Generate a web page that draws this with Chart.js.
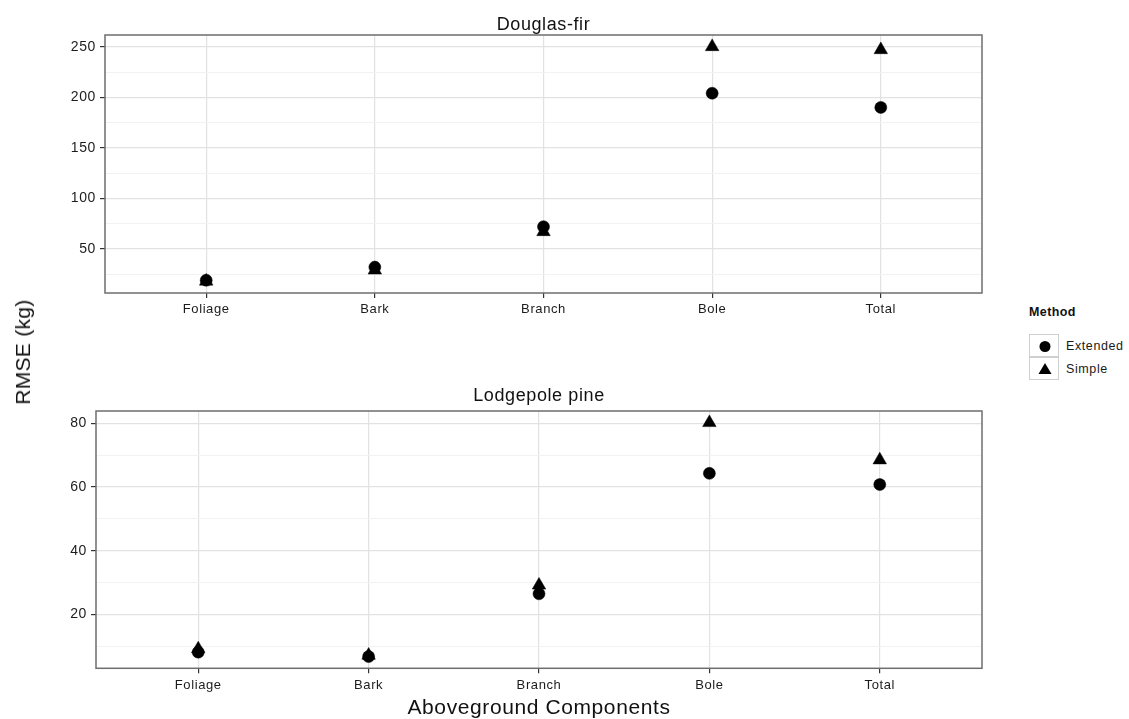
<!DOCTYPE html>
<html>
<head>
<meta charset="utf-8">
<title>RMSE by aboveground component</title>
<script src="https://cdn.jsdelivr.net/npm/chart.js@4/dist/chart.umd.min.js"></script>
<style>
  html, body { margin: 0; padding: 0; background: #fff; }
  #wrap { position: relative; width: 1129px; height: 719px; overflow: hidden;
          font-family: "Liberation Sans", Arial, sans-serif; color: #111; }
  #fir { position: absolute; left: 0; top: 0; }
  #pine { position: absolute; left: 0; top: 370px; }
  #ytitle { position: absolute; left: 22.5px; top: 352px; font-size: 21px; white-space: nowrap;
            transform: translate(-50%, -50%) rotate(-90deg); letter-spacing: 0.3px; }
  #legend-title { position: absolute; left: 1029px; top: 304px; font-size: 12.5px; font-weight: bold;
                  line-height: 16px; letter-spacing: 0.4px; }
  .key { position: absolute; left: 1029px; width: 30px; height: 23px; border: 1px solid #cfcfcf;
         box-sizing: border-box; background: #fff; }
  .key svg { position: absolute; left: 0; top: 0; }
  .key-label { position: absolute; left: 1066px; font-size: 12.5px; line-height: 16px; letter-spacing: 0.6px; color: #1a1a1a; }
</style>
</head>
<body>
<div id="wrap">
  <canvas id="fir" width="1000" height="320"></canvas>
  <canvas id="pine" width="1000" height="349"></canvas>
  <div id="ytitle">RMSE (kg)</div>
  <div id="legend-title">Method</div>
  <div class="key" style="top:334px"><svg width="30" height="23"><circle cx="15" cy="11.5" r="5.5" fill="#000"/></svg></div>
  <div class="key-label" style="top:337.5px">Extended</div>
  <div class="key" style="top:357px"><svg width="30" height="23"><polygon points="15,5 21.5,16 8.5,16" fill="#000"/></svg></div>
  <div class="key-label" style="top:360.5px">Simple</div>
</div>
<script>
// Components on the x axis
const categories = ['Foliage', 'Bark', 'Branch', 'Bole', 'Total'];

// Douglas-fir RMSE (kg)
const douglasExtended = [19, 32, 72, 204, 190];
const douglasSimple = [18, 29, 67, 250, 247];

// Lodgepole pine RMSE (kg)
const lodgepoleExtended = [8.2, 6.8, 26.5, 64.3, 60.8];
const lodgepoleSimple = [9.2, 7.2, 29.2, 80.2, 68.5];

// Labelled and unlabelled (minor) y gridlines per panel
const douglasMajorTicks = [50, 100, 150, 200, 250];
const douglasMinorTicks = [25, 75, 125, 175, 225];
const lodgepoleMajorTicks = [20, 40, 60, 80];
const lodgepoleMinorTicks = [10, 30, 50, 70];

const FONT = '"Liberation Sans", Arial, sans-serif';
const LABEL_COLOR = '#1c1c1c';

// y range padded by 5% of the data span on each side
function paddedRange(...series) {
  const all = series.flat();
  const lo = Math.min(...all), hi = Math.max(...all);
  const pad = (hi - lo) * 0.05;
  return [lo - pad, hi + pad];
}

// Grey frame around the plotting panel
const panelFrame = {
  id: 'panelFrame',
  beforeDraw(chart) { chart.ctx.letterSpacing = '0.6px'; },
  beforeDatasetsDraw(chart) {
    const { ctx, chartArea: a } = chart;
    ctx.save();
    ctx.strokeStyle = '#6e6e6e';
    ctx.lineWidth = 1.5;
    ctx.strokeRect(a.left, a.top, a.right - a.left, a.bottom - a.top);
    ctx.restore();
  }
};

function makePanel(canvasId, cfg) {
  const [ymin, ymax] = paddedRange(cfg.extended, cfg.simple);
  const major = cfg.majorTicks;
  const allTicks = [...cfg.majorTicks, ...cfg.minorTicks].sort((a, b) => a - b);
  const isMajor = v => major.includes(v);

  const toPoints = arr => arr.map((v, i) => ({ x: i, y: v }));

  const xScale = {
    type: 'linear',
    min: -0.6,
    max: categories.length - 1 + 0.6,
    afterBuildTicks: s => { s.ticks = categories.map((_, i) => ({ value: i })); },
    afterFit: s => { s.height = cfg.xAxisHeight; },
    ticks: {
      autoSkip: false, maxRotation: 0, padding: 4,
      color: LABEL_COLOR,
      font: { family: FONT, size: 13 },
      callback: v => categories[v]
    },
    grid: { color: '#e2e2e2', lineWidth: 1.2, tickColor: '#333', tickLength: 5, tickWidth: 1.2 },
    border: { display: false }
  };
  if (cfg.xTitle) {
    xScale.title = {
      display: true, text: cfg.xTitle, color: '#111',
      font: { family: FONT, size: 21, lineHeight: 1 },
      padding: { top: 0, bottom: 0 }
    };
  }

  return new Chart(document.getElementById(canvasId), {
    type: 'scatter',
    data: {
      datasets: [
        {
          label: 'Extended', data: toPoints(cfg.extended),
          pointStyle: 'circle', pointRadius: 6, pointBorderWidth: 0.5,
          backgroundColor: '#000', borderColor: '#000'
        },
        {
          label: 'Simple', data: toPoints(cfg.simple),
          pointStyle: 'triangle', pointRadius: 7.8, pointBorderWidth: 0.5,
          backgroundColor: '#000', borderColor: '#000'
        }
      ]
    },
    options: {
      responsive: false,
      animation: false,
      events: [],
      layout: { padding: { left: 0, right: 18, top: 0, bottom: 0 } },
      plugins: {
        legend: { display: false },
        tooltip: { enabled: false },
        title: {
          display: true, text: cfg.title, color: '#111', fullSize: false,
          font: { family: FONT, size: 18, weight: 'normal', lineHeight: 1 },
          padding: cfg.titlePadding
        }
      },
      scales: {
        x: xScale,
        y: {
          type: 'linear', min: ymin, max: ymax,
          afterBuildTicks: s => { s.ticks = allTicks.map(v => ({ value: v })); },
          afterFit: s => { s.width = cfg.yAxisWidth; },
          ticks: {
            autoSkip: false, padding: 4, color: LABEL_COLOR,
            font: { family: FONT, size: 14 },
            callback: v => (isMajor(v) ? String(v) : '')
          },
          grid: {
            color: c => (isMajor(c.tick.value) ? '#e2e2e2' : '#f2f2f2'),
            lineWidth: c => (isMajor(c.tick.value) ? 1.2 : 1),
            tickColor: c => (isMajor(c.tick.value) ? '#333' : 'rgba(0,0,0,0)'),
            tickLength: 5, tickWidth: 1.2
          },
          border: { display: false }
        }
      }
    },
    plugins: [panelFrame]
  });
}

makePanel('fir', {
  title: 'Douglas-fir',
  extended: douglasExtended,
  simple: douglasSimple,
  majorTicks: douglasMajorTicks,
  minorTicks: douglasMinorTicks,
  yAxisWidth: 105,
  xAxisHeight: 27,
  titlePadding: { top: 16.5, bottom: 0.5 }
});

makePanel('pine', {
  title: 'Lodgepole pine',
  extended: lodgepoleExtended,
  simple: lodgepoleSimple,
  majorTicks: lodgepoleMajorTicks,
  minorTicks: lodgepoleMinorTicks,
  yAxisWidth: 96,
  xAxisHeight: 50.7,
  xTitle: 'Aboveground Components',
  titlePadding: { top: 17.3, bottom: 5.7 }
});
</script>
</body>
</html>
